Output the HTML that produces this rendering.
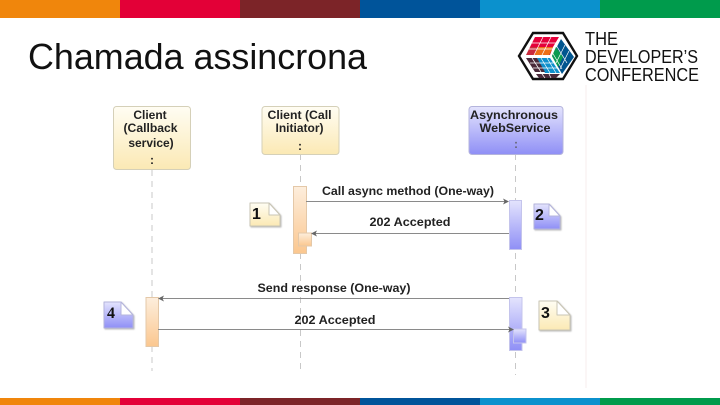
<!DOCTYPE html>
<html><head><meta charset="utf-8"><style>html,body{margin:0;padding:0;background:#fff}svg{display:block}text{font-family:"Liberation Sans",sans-serif}.l{font-size:12px;font-weight:bold;fill:#222;text-anchor:middle}.n{font-size:16px;font-weight:bold;fill:#111}</style></head><body>
<svg width="720" height="405" viewBox="0 0 720 405" xmlns="http://www.w3.org/2000/svg">
<defs>
<linearGradient id="y" x1="0" y1="0" x2="0" y2="1"><stop offset="0" stop-color="#fffdf3"/><stop offset="1" stop-color="#fbe9b4"/></linearGradient>
<linearGradient id="b" x1="0" y1="0" x2="0" y2="1"><stop offset="0" stop-color="#e4e4fd"/><stop offset="1" stop-color="#8f8ff6"/></linearGradient>
<linearGradient id="o" x1="0" y1="0" x2="0" y2="1"><stop offset="0" stop-color="#fdeedd"/><stop offset="1" stop-color="#fbc78f"/></linearGradient>
<filter id="s" x="-20%" y="-20%" width="150%" height="150%"><feDropShadow dx="1" dy="1" stdDeviation="0.8" flood-color="#888" flood-opacity="0.6"/></filter>
</defs>
<rect x="0" y="0" width="120" height="18" fill="#f0860c"/><rect x="120" y="0" width="120" height="18" fill="#e30037"/><rect x="240" y="0" width="120" height="18" fill="#7c2428"/><rect x="360" y="0" width="120" height="18" fill="#00549a"/><rect x="480" y="0" width="120" height="18" fill="#0b91cd"/><rect x="600" y="0" width="120" height="18" fill="#009b4c"/>
<rect x="0" y="398" width="120" height="7" fill="#f0860c"/><rect x="120" y="398" width="120" height="7" fill="#e30037"/><rect x="240" y="398" width="120" height="7" fill="#7c2428"/><rect x="360" y="398" width="120" height="7" fill="#00549a"/><rect x="480" y="398" width="120" height="7" fill="#0b91cd"/><rect x="600" y="398" width="120" height="7" fill="#009b4c"/>
<rect x="585" y="85" width="2" height="303" fill="#fbf6f6"/>
<text x="28" y="69" font-size="36" fill="#111" textLength="339" lengthAdjust="spacingAndGlyphs">Chamada assincrona</text>

<polygon points="533,33 563,33 577,56 563,79 533,79 519,56" fill="#fff" stroke="#111" stroke-width="2.4"/>
<polygon points="535,37 559,37 553,47 530,47" fill="#e4003a"/>
<polygon points="530,47 553,47 550,55 526,55" fill="#ca2a3c"/>
<polygon points="538,47 553,47 549,55 534,55" fill="#ee6f16"/>
<polygon points="561,39 574,57 562,74 552,56" fill="#00558f"/>
<polygon points="556,47 563,57 558,67 552,56" fill="#0a9a50"/>
<polygon points="537,58 550,58 560,73 545,73" fill="#0f90cc"/>
<polygon points="526,58 537,58 545,72 535,72" fill="#4a2a3a"/>
<polygon points="536,74 560,74 556,78 539,78" fill="#4a2a3a"/>
<g stroke="#fff" stroke-width="0.7" fill="none">
<path d="M532 43H556M529 49H553M543 37L534 55M551 37L542 55"/>
<path d="M565 45L556 63M569 51L560 69M556 45L567 63M552 52L562 69"/>
<path d="M530 63H553M533 68H557M541 58L550 73M547 58L556 73M532 58L541 72"/>
<path d="M542 74L545 78M549 74L551 78"/>
</g>

<g fill="#111" font-size="18.5">
<text x="585" y="45" textLength="33" lengthAdjust="spacingAndGlyphs">THE</text>
<text x="585" y="63" textLength="113" lengthAdjust="spacingAndGlyphs">DEVELOPER’S</text>
<text x="585" y="81" textLength="114" lengthAdjust="spacingAndGlyphs">CONFERENCE</text>
</g>

<g stroke="#c8c8c8" stroke-width="1" stroke-dasharray="6 5" fill="none">
<line x1="152" y1="170" x2="152" y2="371"/><line x1="300.500" y1="154" x2="300.500" y2="371"/><line x1="515.500" y1="154" x2="515.500" y2="375"/>
</g>

<rect x="113.500" y="106.500" width="77" height="63" rx="3" fill="url(#y)" stroke="#d5d0b8"/>
<rect x="262" y="106.500" width="77" height="48" rx="3" fill="url(#y)" stroke="#d5d0b8"/>
<rect x="469" y="106.500" width="94" height="48" rx="3" fill="url(#b)" stroke="#b4b4dc"/>
<text class="l" x="150" y="119">Client</text><text class="l" x="150.500" y="132" textLength="54" lengthAdjust="spacingAndGlyphs">(Callback</text><text class="l" x="151" y="147">service)</text><text class="l" x="152" y="164">:</text>
<text class="l" x="299.500" y="119" textLength="64" lengthAdjust="spacingAndGlyphs">Client (Call</text><text class="l" x="299.500" y="132">Initiator)</text><text class="l" x="300" y="150">:</text>
<text class="l" x="514" y="119" textLength="88" lengthAdjust="spacingAndGlyphs">Asynchronous</text><text class="l" x="515" y="132" textLength="71" lengthAdjust="spacingAndGlyphs">WebService</text><text class="l" x="516" y="148" style="fill:#667">:</text>

<rect x="293.500" y="186.500" width="13" height="67" fill="url(#o)" stroke="#e4c8a8"/>
<rect x="298.500" y="233" width="13" height="13" fill="url(#o)" stroke="#e4c8a8"/>
<rect x="509.500" y="200.500" width="12" height="49" fill="url(#b)" stroke="#c4c4ec"/>
<rect x="146" y="297.500" width="12.500" height="49" fill="url(#o)" stroke="#e4c8a8"/>
<rect x="509.500" y="297.500" width="12.500" height="53" fill="url(#b)" stroke="#c4c4ec"/>
<rect x="513.500" y="329" width="12.500" height="14" fill="url(#b)" stroke="#c4c4ec"/>

<g stroke="#8a8a8a" stroke-width="1" fill="none">
<line x1="306" y1="201.500" x2="507" y2="201.500"/><line x1="509" y1="233.500" x2="313" y2="233.500"/><line x1="509" y1="298.500" x2="160" y2="298.500"/><line x1="158" y1="329.500" x2="510" y2="329.500"/>
</g>
<g fill="#666">
<polygon points="509,201.500 503,198.500 504.500,201.500 503,204.500"/><polygon points="311,233.500 317,230.500 315.500,233.500 317,236.500"/><polygon points="158,298.500 164,295.500 162.500,298.500 164,301.500"/><polygon points="514,329.500 508,326.500 509.500,329.500 508,332.500"/>
</g>

<text class="l" x="408" y="195" textLength="172" lengthAdjust="spacingAndGlyphs">Call async method (One-way)</text>
<text class="l" x="410" y="226" textLength="81" lengthAdjust="spacingAndGlyphs">202 Accepted</text>
<text class="l" x="334" y="292" textLength="153" lengthAdjust="spacingAndGlyphs">Send response (One-way)</text>
<text class="l" x="335" y="324" textLength="81" lengthAdjust="spacingAndGlyphs">202 Accepted</text>

<g stroke="#c9c5b4" stroke-width="1" stroke-linejoin="round">
<path d="M250 203H269L280 215V226H250Z" fill="url(#y)" filter="url(#s)"/>
<path d="M269 203V215H280Z" fill="#fff"/>
<path d="M539 301H557L570 315V330H539Z" fill="url(#y)" filter="url(#s)"/>
<path d="M557 301V315H570Z" fill="#fff"/>
</g>
<g stroke="#b4b4dc" stroke-width="1" stroke-linejoin="round">
<path d="M534 204H549L560 216V229H534Z" fill="url(#b)" filter="url(#s)"/>
<path d="M549 204V216H560Z" fill="#fff"/>
<path d="M104 302H121L133 315V328H104Z" fill="url(#b)" filter="url(#s)"/>
<path d="M121 302V315H133Z" fill="#fff"/>
</g>
<text class="n" x="252" y="219">1</text>
<text class="n" x="535" y="220">2</text>
<text class="n" x="541" y="318">3</text>
<text class="n" x="107" y="318" style="font-family:'Liberation Serif',serif">4</text>
</svg>
</body></html>
